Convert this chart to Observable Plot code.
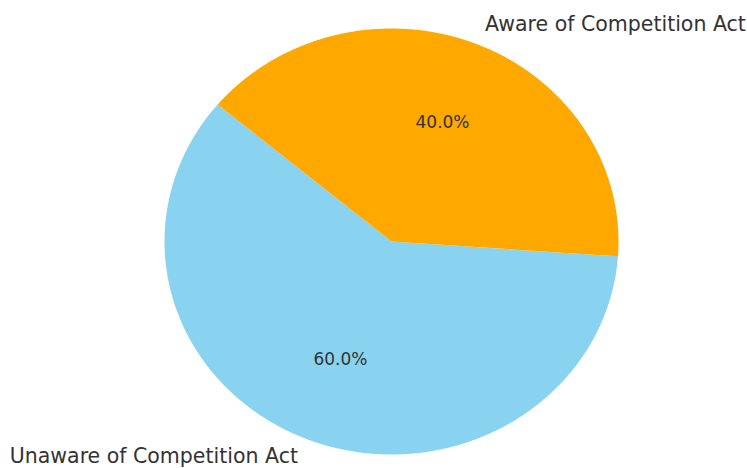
<!DOCTYPE html>
<html>
<head>
<meta charset="utf-8">
<script src="https://cdn.jsdelivr.net/npm/d3@7"></script>
<script src="https://cdn.jsdelivr.net/npm/@observablehq/plot@0.6"></script>
<style>
  html, body { margin: 0; padding: 0; background: #fff; }
  #chart svg { overflow: visible; }
</style>
</head>
<body>
<div id="chart"></div>
<script>
const labels = ["Unaware of Competition Act", "Aware of Competition Act"];
const values = [60, 40];
const colors = ["#89D3F0", "#FFA800"];
const startAngle = 140;      // degrees, counter-clockwise from +x
const labelDistance = 1.1;
const pctDistance = 0.6;

const total = d3.sum(values);
const slices = [];
let a0 = startAngle;
values.forEach((v, i) => {
  const span = v / total * 360;
  slices.push({label: labels[i], value: v, a0, a1: a0 + span, mid: a0 + span / 2});
  a0 += span;
});
const rad = d => d * Math.PI / 180;

const outline = [];
for (const s of slices) {
  outline.push({label: s.label, x: 0, y: 0});
  const n = Math.ceil((s.a1 - s.a0) / 0.5);
  for (let k = 0; k <= n; k++) {
    const a = rad(s.a0 + (s.a1 - s.a0) * k / n);
    outline.push({label: s.label, x: Math.cos(a), y: Math.sin(a)});
  }
  outline.push({label: s.label, x: 0, y: 0});
}
const textPts = slices.map(s => ({
  label: s.label,
  pct: (s.value / total * 100).toFixed(1) + "%",
  lx: labelDistance * Math.cos(rad(s.mid)),
  ly: labelDistance * Math.sin(rad(s.mid)),
  px: pctDistance * Math.cos(rad(s.mid)),
  py: pctDistance * Math.sin(rad(s.mid))
}));

const chart = Plot.plot({
  width: 747,
  height: 468,
  marginLeft: 164,
  marginRight: 129,
  marginTop: 28,
  marginBottom: 14,
  x: {domain: [-1, 1], axis: null},
  y: {domain: [-1, 1], axis: null},
  color: {domain: labels, range: colors},
  style: {fontFamily: "DejaVu Sans", background: "#fff"},
  marks: [
    Plot.line(outline, {x: "x", y: "y", z: "label", fill: "label", stroke: "none", curve: "linear"}),
    Plot.text(textPts.filter(d => d.lx < 0), {x: "lx", y: "ly", text: "label", textAnchor: "end", fontSize: 20.5, fill: "#333", dy: -2}),
    Plot.text(textPts.filter(d => d.lx >= 0), {x: "lx", y: "ly", text: "label", textAnchor: "start", fontSize: 20.5, fill: "#333"}),
    Plot.text(textPts, {x: "px", y: "py", text: "pct", fontSize: 17, fill: "#333"})
  ]
});
document.getElementById("chart").appendChild(chart);
</script>
</body>
</html>
